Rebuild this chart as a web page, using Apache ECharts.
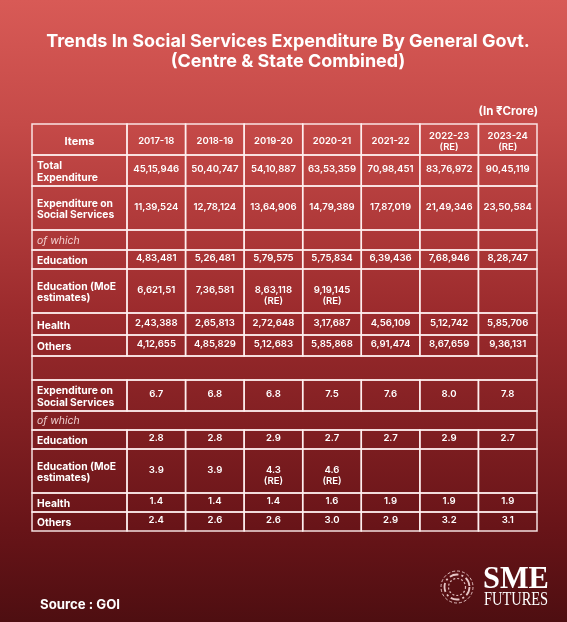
<!DOCTYPE html>
<html>
<head>
<meta charset="utf-8">
<style>html,body{margin:0;padding:0;}#c{width:567px;height:622px;}</style>
<script src="https://cdn.jsdelivr.net/npm/echarts@6/dist/echarts.min.js"></script>
</head>
<body>
<div id="c"></div>
<script>
// ---------- data ----------
const years = ['2017-18','2018-19','2019-20','2020-21','2021-22','2022-23\n(RE)','2023-24\n(RE)'];
const itemsCrore = ['Total\nExpenditure','Expenditure on\nSocial Services','of which','Education','Education (MoE\nestimates)','Health','Others'];
const itemsPct = ['Expenditure on\nSocial Services','of which','Education','Education (MoE\nestimates)','Health','Others'];

const totalExpenditure = ['45,15,946','50,40,747','54,10,887','63,53,359','70,98,451','83,76,972','90,45,119'];
const socialExpenditure = ['11,39,524','12,78,124','13,64,906','14,79,389','17,87,019','21,49,346','23,50,584'];
const educationCrore = ['4,83,481','5,26,481','5,79,575','5,75,834','6,39,436','7,68,946','8,28,747'];
const educationMoECrore = ['6,621,51','7,36,581','8,63,118','9,19,145',null,null,null];
const healthCrore = ['2,43,388','2,65,813','2,72,648','3,17,687','4,56,109','5,12,742','5,85,706'];
const othersCrore = ['4,12,655','4,85,829','5,12,683','5,85,868','6,91,474','8,67,659','9,36,131'];

const socialPct = [6.7, 6.8, 6.8, 7.5, 7.6, 8.0, 7.8];
const educationPct = [2.8, 2.8, 2.9, 2.7, 2.7, 2.9, 2.7];
const educationMoEPct = [3.9, 3.9, 4.3, 4.6, null, null, null];
const healthPct = [1.4, 1.4, 1.4, 1.6, 1.9, 1.9, 1.9];
const othersPct = [2.4, 2.6, 2.6, 3.0, 2.9, 3.2, 3.1];
const moeRevised = [false, false, true, true, false, false, false];

// ---------- layout ----------
const colWidths = [95].concat(years.map(() => 410 / 7));
const rowHeights = [31,31,44,20,19,44,22,21,24,31,19,19,44,19,19];
const colEdges = [0]; colWidths.forEach(w => colEdges.push(colEdges[colEdges.length-1] + w));
const rowTops = [0]; rowHeights.forEach(h => rowTops.push(rowTops[rowTops.length-1] + h));
const tableW = colEdges[colEdges.length-1], tableH = rowTops[rowTops.length-1];
const FONT = "Inter,'Noto Sans',sans-serif";
const SERIF = "'Liberation Serif','DejaVu Serif',serif";

// ---------- cells ----------
const cells = [];
function add(c0, c1, row, text, kind, re) { cells.push({c0, c1, row, text, kind, re}); }
add(0, 1, 0, 'Items', 'headItem');
years.forEach((y, i) => add(i+1, i+2, 0, y, 'head'));

const croreSeries = [totalExpenditure, socialExpenditure, null, educationCrore, educationMoECrore, healthCrore, othersCrore];
itemsCrore.forEach((label, k) => {
  const row = 1 + k;
  const ser = croreSeries[k];
  add(0, 1, row, label, ser ? 'label' : 'italic');
  years.forEach((y, i) => {
    const v = ser ? ser[i] : null;
    add(i+1, i+2, row, v == null ? '' : v, 'num', ser === educationMoECrore && moeRevised[i]);
  });
});
add(0, 8, 8, '', 'blank');
const pctSeries = [socialPct, null, educationPct, educationMoEPct, healthPct, othersPct];
itemsPct.forEach((label, k) => {
  const row = 9 + k;
  const ser = pctSeries[k];
  if (!ser) { add(0, 8, row, label, 'italic'); return; }
  add(0, 1, row, label, 'label');
  years.forEach((y, i) => {
    const v = ser[i];
    add(i+1, i+2, row, v == null ? '' : v.toFixed(1), 'num', ser === educationMoEPct && moeRevised[i]);
  });
});

const chart = echarts.init(document.getElementById('c'), null, {renderer: 'canvas'});

function renderItem(params, api) {
  const c = cells[params.dataIndex];
  const p0 = api.coord([api.value(0), api.value(1)]);
  const p1 = api.coord([api.value(2), api.value(3)]);
  const x0 = p0[0], y0 = p0[1], x1 = p1[0], y1 = p1[1];
  const cx = (x0 + x1) / 2, cy = (y0 + y1) / 2;
  const children = [{
    type: 'rect',
    shape: {x: x0, y: y0, width: x1 - x0, height: y1 - y0},
    style: {fill: 'rgba(0,0,0,0)', stroke: 'rgba(255,240,240,0.92)', lineWidth: 1.5}
  }];
  const base = {fill: '#ffffff', fontFamily: FONT};
  if (c.kind === 'headItem') {
    children.push({type: 'text', style: Object.assign({}, base, {text: c.text, x: cx, y: cy + 2, align: 'center', verticalAlign: 'middle', fontSize: 11, fontWeight: 'bold'})});
  } else if (c.kind === 'head') {
    children.push({type: 'text', style: Object.assign({}, base, {text: c.text, x: cx, y: cy + 2, align: 'center', verticalAlign: 'middle', fontSize: 9.5, fontWeight: 600, lineHeight: 11})});
  } else if (c.kind === 'label') {
    children.push({type: 'text', style: Object.assign({}, base, {text: c.text, x: x0 + 5, y: cy + 1.5, align: 'left', verticalAlign: 'middle', fontSize: 10.3, fontWeight: 'bold', lineHeight: 11.5})});
  } else if (c.kind === 'italic') {
    children.push({type: 'text', style: Object.assign({}, base, {text: c.text, x: x0 + 5, y: cy + 0.5, align: 'left', verticalAlign: 'middle', fontSize: 10.5, fontStyle: 'italic', fontWeight: 'normal', fill: 'rgba(255,235,235,0.85)'})});
  } else if (c.kind === 'num' && c.text) {
    children.push({type: 'text', style: Object.assign({}, base, {text: c.text, x: cx, y: cy - 1, align: 'center', verticalAlign: 'middle', fontSize: 9.6, fontWeight: 600})});
    if (c.re) {
      children.push({type: 'text', style: Object.assign({}, base, {text: '(RE)', x: cx, y: cy + 10, align: 'center', verticalAlign: 'middle', fontSize: 9.6, fontWeight: 600})});
    }
  }
  return {type: 'group', children};
}

chart.setOption({
  backgroundColor: {
    type: 'linear', x: 0, y: 0, x2: 0, y2: 1,
    colorStops: [
      {offset: 0, color: '#d85a56'},
      {offset: 0.2, color: '#c54a48'},
      {offset: 0.5, color: '#9c2b2d'},
      {offset: 0.85, color: '#681418'},
      {offset: 1, color: '#4e0e11'}
    ]
  },
  animation: false,
  grid: {left: 32, top: 124, width: 505, height: 407},
  xAxis: {type: 'value', min: 0, max: tableW, show: false},
  yAxis: {type: 'value', min: 0, max: tableH, inverse: true, show: false},
  series: [{
    type: 'custom',
    renderItem,
    data: cells.map(c => [colEdges[c.c0], rowTops[c.row], colEdges[c.c1], rowTops[c.row + 1]]),
    encode: {x: [0, 2], y: [1, 3]},
    silent: true
  }],
  graphic: [
    {type: 'text', x: 288, y: 42, style: {text: 'Trends In Social Services Expenditure By General Govt.', align: 'center', verticalAlign: 'middle', fill: '#ffffff', fontFamily: FONT, fontSize: 18, fontWeight: 'bold'}},
    {type: 'text', x: 288, y: 62, style: {text: '(Centre & State Combined)', align: 'center', verticalAlign: 'middle', fill: '#ffffff', fontFamily: FONT, fontSize: 18, fontWeight: 'bold'}},
    {type: 'text', x: 538, y: 112, style: {text: '(In ₹Crore)', align: 'right', verticalAlign: 'middle', fill: '#ffffff', fontFamily: FONT, fontSize: 11.5, fontWeight: 'bold'}},
    {type: 'text', x: 40, y: 605.5, style: {text: 'Source : GOI', align: 'left', verticalAlign: 'middle', fill: '#ffffff', fontFamily: FONT, fontSize: 13.2, fontWeight: 'bold'}},
    {type: 'group', x: 457, y: 587, children: [
      {type: 'circle', shape: {cx: 0, cy: 0, r: 16}, style: {fill: 'none', stroke: 'rgba(255,230,230,0.8)', lineWidth: 1, lineDash: [3, 2]}},
      {type: 'circle', shape: {cx: 0, cy: 0, r: 12.5}, style: {fill: 'none', stroke: 'rgba(255,230,230,0.85)', lineWidth: 1.8, lineDash: [9, 3, 2, 3]}},
      {type: 'circle', shape: {cx: 0, cy: 0, r: 8.5}, style: {fill: 'none', stroke: 'rgba(255,230,230,0.8)', lineWidth: 1.2, lineDash: [2, 2]}}
    ]},
    {type: 'text', x: 483, y: 580, scaleX: 0.95, style: {text: 'SME', align: 'left', verticalAlign: 'middle', fill: '#ffffff', fontFamily: SERIF, fontSize: 32, fontWeight: 'bold'}},
    {type: 'text', x: 484, y: 600.5, scaleX: 0.78, style: {text: 'FUTURES', align: 'left', verticalAlign: 'middle', fill: '#ffffff', fontFamily: SERIF, fontSize: 18.5}}
  ]
});
</script>
</body>
</html>
